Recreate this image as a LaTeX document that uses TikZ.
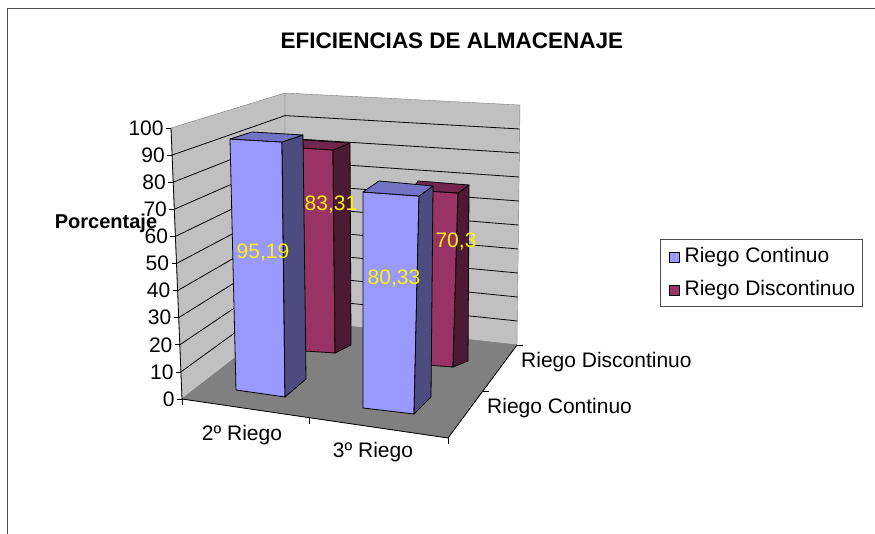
\documentclass[tikz,border=0pt]{standalone}
\usepackage{fontspec}
\setmainfont{Liberation Sans}
\usetikzlibrary{positioning}

\definecolor{contfront}{HTML}{9999FF}
\definecolor{contside}{HTML}{4C4C80}
\definecolor{conttop}{HTML}{7373C6}
\definecolor{discfront}{HTML}{993366}
\definecolor{discside}{HTML}{4D1A33}
\definecolor{disctop}{HTML}{73264D}
\definecolor{wallgray}{HTML}{C0C0C0}
\definecolor{floorgray}{HTML}{808080}

\def\leftwall{(171,128) -- (285,93) -- (285,319) -- (182,399) -- cycle}
\def\backwall{(285,93) -- (520,105) -- (517,345) -- (285,319) -- cycle}
\def\floorplane{(182,399) -- (285,319) -- (517,345) -- (448,438) -- cycle}

\tikzset{
  lbl/.style={font=\fontsize{21}{24}\selectfont, inner sep=2pt},
  datalbl/.style={lbl, text=yellow},
  barline/.style={draw=black, line width=0.8pt, line join=round},
  keybox/.style={draw=black, line width=0.8pt, minimum size=10pt, inner sep=0pt}
}

\begin{document}
\begin{tikzpicture}[x=1pt,y=-1pt]
  \useasboundingbox (0,0) rectangle (875,534);
  \draw[gray!60!black, line width=1pt] (7,534) -- (7,9) -- (875,9);

  \node[font=\fontsize{22.5}{26}\selectfont\bfseries] (title) at (452,41) {EFICIENCIAS DE ALMACENAJE};

  % walls and floor
  \filldraw[fill=wallgray, draw=floorgray] \leftwall;
  \filldraw[fill=wallgray, draw=floorgray] \backwall;
  \filldraw[fill=floorgray, draw=floorgray] \floorplane;

  \foreach \v in {10,20,...,90}
    \draw[line width=0.8pt] (182-0.11*\v,399-2.71*\v) -- (285,319-2.26*\v) -- (517+0.03*\v,345-2.4*\v);

  % value axis
  \draw[line width=0.8pt] (171,128) -- (182,399);
  \foreach \v in {0,10,...,100}
    \draw[line width=0.8pt] (182-0.11*\v,399-2.71*\v) -- ++(-5,0) node[lbl, left] (y\v) {\v};
  \node[lbl, font=\fontsize{20}{24}\selectfont\bfseries] (ytitle) at (106,223) {Porcentaje};

  % floor edges and ticks
  \draw[line width=0.8pt] (182,399) -- (448,438) -- (517,345);
  \foreach \p in {(182,399),(309,418),(448,438)}
    \draw[line width=0.8pt] \p -- ++(0,6);
  \foreach \p in {(517,345),(483,391)}
    \draw[line width=0.8pt] \p -- ++(6,0);

  % 2º Riego, Riego Discontinuo
  \filldraw[barline, fill=discfront] (286,147) -- (333,150) -- (335,353) -- (290,350) -- cycle;
  \filldraw[barline, fill=discside] (333,150) -- (350,143) -- (351,345) -- (335,353) -- cycle;
  \filldraw[barline, fill=disctop] (286,147) -- (304,140) -- (350,143) -- (333,150) -- cycle;

  % 3º Riego, Riego Discontinuo
  \filldraw[barline, fill=discfront] (412,190) -- (458,193) -- (453,367) -- (412,364) -- cycle;
  \filldraw[barline, fill=discside] (458,193) -- (469,185) -- (468,361) -- (453,367) -- cycle;
  \filldraw[barline, fill=disctop] (412,190) -- (418,181) -- (469,185) -- (458,193) -- cycle;

  % 2º Riego, Riego Continuo
  \filldraw[barline, fill=contfront] (230,139) -- (282,142) -- (285,397) -- (236,390) -- cycle;
  \filldraw[barline, fill=contside] (282,142) -- (303,135) -- (306,379) -- (285,397) -- cycle;
  \filldraw[barline, fill=conttop] (230,139) -- (252,132) -- (303,135) -- (282,142) -- cycle;

  % 3º Riego, Riego Continuo
  \filldraw[barline, fill=contfront] (363,192) -- (419,196) -- (414,414) -- (363,408) -- cycle;
  \filldraw[barline, fill=contside] (419,196) -- (433,186) -- (431,397) -- (414,414) -- cycle;
  \filldraw[barline, fill=conttop] (363,192) -- (379,181) -- (433,186) -- (419,196) -- cycle;

  % data labels
  \node[datalbl] (v1) at (263,253) {95,19};
  \node[datalbl] (v2) at (331,205) {83,31};
  \node[datalbl] (v3) at (394,279) {80,33};
  \node[datalbl] (v4) at (456,242) {70,3};

  % axis labels
  \node[lbl] (c1) at (242,435) {2º Riego};
  \node[lbl] (c2) at (373,452) {3º Riego};
  \node[lbl, anchor=west] (s2) at (519,362) {Riego Discontinuo};
  \node[lbl, anchor=west] (s1) at (485,408) {Riego Continuo};

  % legend
  \draw[gray!60!black, line width=1pt] (660,240) rectangle (862,307);
  \node[keybox, fill=contfront] (k1) at (674,257) {};
  \node[lbl, right=3pt of k1] (t1) {Riego Continuo};
  \node[keybox, fill=discfront] (k2) at (674,290) {};
  \node[lbl, right=3pt of k2] (t2) {Riego Discontinuo};

\end{tikzpicture}
\end{document}
